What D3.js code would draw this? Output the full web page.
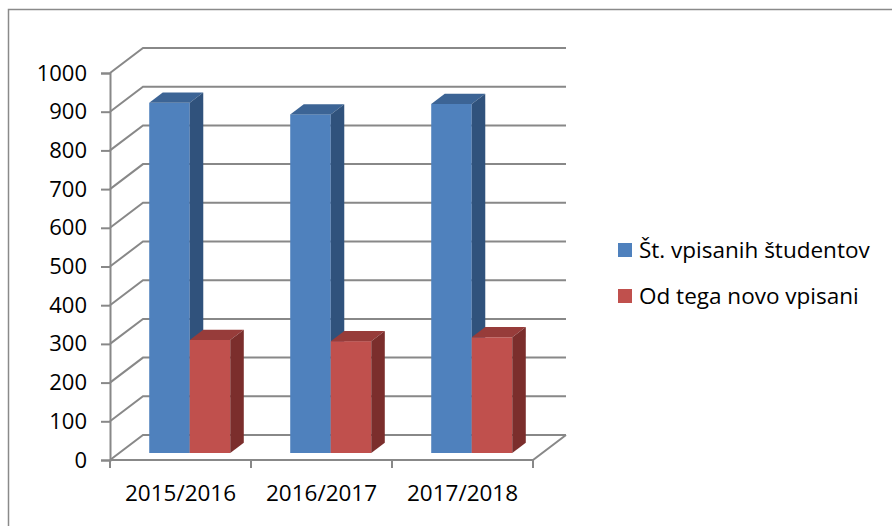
<!DOCTYPE html>
<html>
<head>
<meta charset="utf-8">
<script src="https://cdn.jsdelivr.net/npm/d3@7"></script>
<style>
  body { margin: 0; background: #fff; }
  svg { display: block; font-family: 'Open Sans', sans-serif; }
</style>
</head>
<body>
<svg id="chart"></svg>
<script>
const WIDTH = 892;
const HEIGHT = 526;

const categories = ['2015/2016', '2016/2017', '2017/2018'];
const seriesNames = ['Št. vpisanih študentov', 'Od tega novo vpisani'];
const enrolled = [905, 875, 902];
const newlyEnrolled = [292, 289, 299];
const yTicks = [0, 100, 200, 300, 400, 500, 600, 700, 800, 900, 1000];

const colors = [
  { front: '#4f81bd', top: '#3c6495', side: '#30527c' },
  { front: '#c0504d', top: '#973c3a', side: '#7b2e2c' },
];

const rows = categories.map((c, i) => ({ cat: c, values: [enrolled[i], newlyEnrolled[i]] }));

const svg = d3.select('#chart').attr('width', WIDTH).attr('height', HEIGHT);

// outer frame (cut off at right and bottom like the source)
svg.append('rect')
  .attr('x', 8.5).attr('y', 9.5)
  .attr('width', 1000).attr('height', 1000)
  .attr('fill', 'none').attr('stroke', '#8a8a8a').attr('stroke-width', 1.5);

// front plane scales
const xScale = d3.scaleBand().domain(categories).range([110, 533]);
const xInner = d3.scaleBand().domain([0, 1]).range([0, xScale.bandwidth()]).paddingOuter(0.74);
const yScale = d3.scaleLinear().domain([0, 1000]).range([460, 73]);

// oblique depth
const DX = 33;
const DY = -25;
const off = d => [DX * d, DY * d];
const BAR_D0 = 0.28;
const BAR_D1 = 0.69;

const grid = svg.append('g')
  .attr('fill', 'none').attr('stroke', '#888').attr('stroke-width', 2);

const x0 = xScale.range()[0];
const x1 = xScale.range()[1];

// walls: left side + back
yTicks.forEach(v => {
  const y = yScale(v);
  grid.append('polyline')
    .attr('points', `${x0},${y} ${x0 + DX},${y + DY} ${x1 + DX},${y + DY}`);
});

// floor
const yb = yScale(0);
grid.append('polyline')
  .attr('points', `${x0},${yb} ${x1},${yb} ${x1 + DX},${yb + DY}`);

// bars
const bars = svg.append('g');
rows.forEach(row => {
  row.values.forEach((v, si) => {
    const c = colors[si];
    const [ox0, oy0] = off(BAR_D0);
    const [ox1, oy1] = off(BAR_D1);
    const left = xScale(row.cat) + xInner(si) + ox0;
    const right = left + xInner.bandwidth();
    const top = yScale(v) + oy0;
    const bottom = yScale(0) + oy0;
    const ddx = ox1 - ox0;
    const ddy = oy1 - oy0;
    // front
    bars.append('rect')
      .attr('x', left).attr('y', top)
      .attr('width', right - left).attr('height', bottom - top)
      .attr('fill', c.front);
    // top
    bars.append('polygon')
      .attr('points', `${left},${top} ${right},${top} ${right + ddx},${top + ddy} ${left + ddx},${top + ddy}`)
      .attr('fill', c.top);
    // side
    bars.append('polygon')
      .attr('points', `${right},${top} ${right + ddx},${top + ddy} ${right + ddx},${bottom + ddy} ${right},${bottom}`)
      .attr('fill', c.side);
  });
});

// axes
const leftAxis = d3.axisLeft(yScale).tickValues(yTicks).tickFormat(d3.format('d'))
  .tickSize(9).tickPadding(14);
const ga = svg.append('g').attr('transform', `translate(${x0},0)`).call(leftAxis);
ga.select('.domain').attr('stroke', '#888').attr('stroke-width', 2);
ga.selectAll('.tick line').attr('stroke', '#888').attr('stroke-width', 2);
ga.selectAll('.tick text').attr('font-size', 22).attr('fill', '#000')
  .attr('font-family', "'Open Sans', sans-serif");

const bottomAxis = d3.axisBottom(xScale).tickSize(0).tickPadding(25);
const gb = svg.append('g').attr('transform', `translate(0,${yb})`).call(bottomAxis);
gb.select('.domain').remove();
gb.selectAll('.tick text').attr('font-size', 22.5).attr('fill', '#000')
  .attr('font-family', "'Open Sans', sans-serif");

// category tick marks at band edges
const edges = categories.map(c => xScale(c)).concat([x1]);
svg.append('g').selectAll('line')
  .data(edges)
  .enter()
  .append('line')
  .attr('x1', d => d).attr('x2', d => d)
  .attr('y1', yb).attr('y2', yb + 8)
  .attr('stroke', '#888').attr('stroke-width', 2);

// legend
const legend = svg.append('g').attr('transform', 'translate(618,243)');
seriesNames.forEach((name, i) => {
  const g = legend.append('g').attr('transform', `translate(0,${i * 46})`);
  g.append('rect').attr('width', 14).attr('height', 14).attr('fill', colors[i].front);
  g.append('text')
    .attr('x', 21).attr('y', 15)
    .attr('font-size', 22.5).attr('fill', '#000')
    .text(name);
});
</script>
</body>
</html>
